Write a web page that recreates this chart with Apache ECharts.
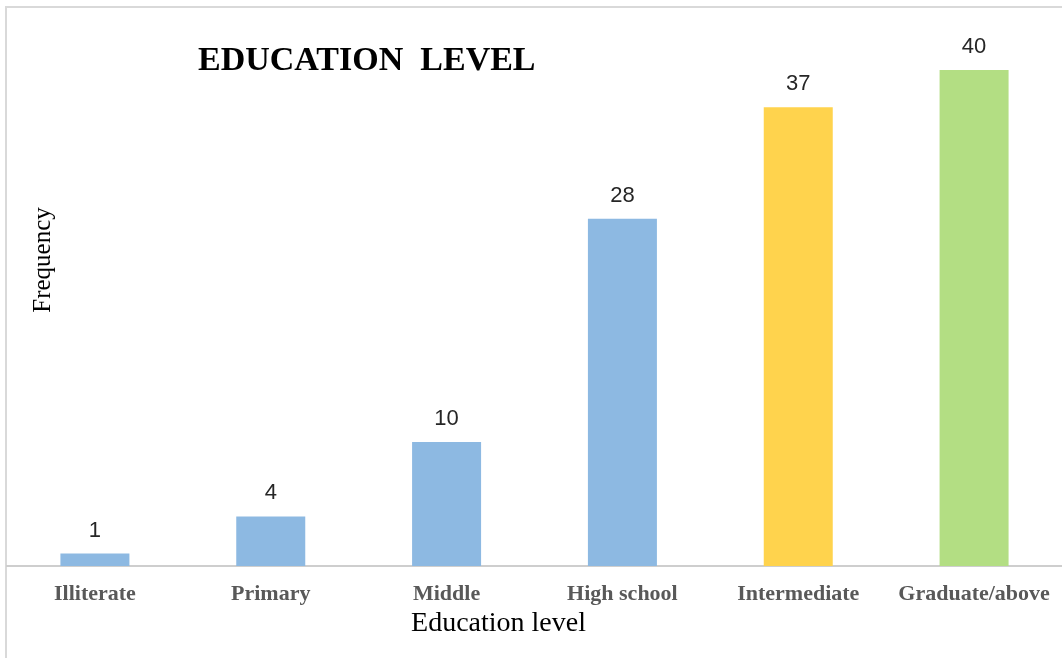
<!DOCTYPE html>
<html>
<head>
<meta charset="utf-8">
<script src="https://cdn.jsdelivr.net/npm/echarts@6/dist/echarts.min.js"></script>
<style>
html,body{margin:0;padding:0;background:#fff;}
#chart{width:1062px;height:658px;}
</style>
</head>
<body>
<div id="chart"></div>
<script>
const categories = ["Illiterate", "Primary", "Middle", "High school", "Intermediate", "Graduate/above"];
const frequency = [1, 4, 10, 28, 37, 40];
const barColors = ["#8DB9E2", "#8DB9E2", "#8DB9E2", "#8DB9E2", "#FFD34D", "#B3DE83"];

const chart = echarts.init(document.getElementById('chart'));
chart.setOption({
  animation: false,
  backgroundColor: '#ffffff',
  title: {
    text: 'EDUCATION  LEVEL',
    left: 198,
    top: 44,
    padding: 0,
    textStyle: { fontFamily: 'Liberation Serif', fontWeight: 'bold', fontSize: 34, color: '#000' }
  },
  graphic: [
    {
      type: 'rect',
      shape: { x: 6, y: 7, width: 1100, height: 700 },
      style: { fill: 'none', stroke: '#d9d9d9', lineWidth: 2 },
      z: -1
    },
    {
      type: 'text',
      x: 43, y: 260,
      rotation: Math.PI / 2,
      style: {
        text: 'Frequency',
        fontFamily: 'Liberation Serif',
        fontSize: 25,
        fill: '#000',
        align: 'center',
        verticalAlign: 'middle'
      }
    }
  ],
  grid: { left: 7, right: 0, top: 8, bottom: 92, containLabel: false },
  xAxis: {
    type: 'category',
    data: categories,
    name: 'Education level',
    nameLocation: 'middle',
    nameGap: 40,
    nameTextStyle: { fontFamily: 'Liberation Serif', fontSize: 28, color: '#000', padding: [0, 72, 0, 0] },
    axisLine: { lineStyle: { color: '#bfbfbf', width: 1.5 } },
    axisTick: { show: false },
    axisLabel: {
      margin: 17,
      fontFamily: 'Liberation Serif',
      fontWeight: 'bold',
      fontSize: 22,
      color: '#595959',
      interval: 0
    }
  },
  yAxis: {
    type: 'value',
    min: 0,
    max: 45,
    show: false,
    splitLine: { show: false }
  },
  series: [{
    type: 'bar',
    data: frequency.map((v, i) => ({ value: v, itemStyle: { color: barColors[i] } })),
    barWidth: 69,
    label: {
      show: true,
      position: 'top',
      distance: 12,
      fontFamily: 'Liberation Sans',
      fontSize: 22,
      color: '#262626'
    }
  }]
});
</script>
</body>
</html>
